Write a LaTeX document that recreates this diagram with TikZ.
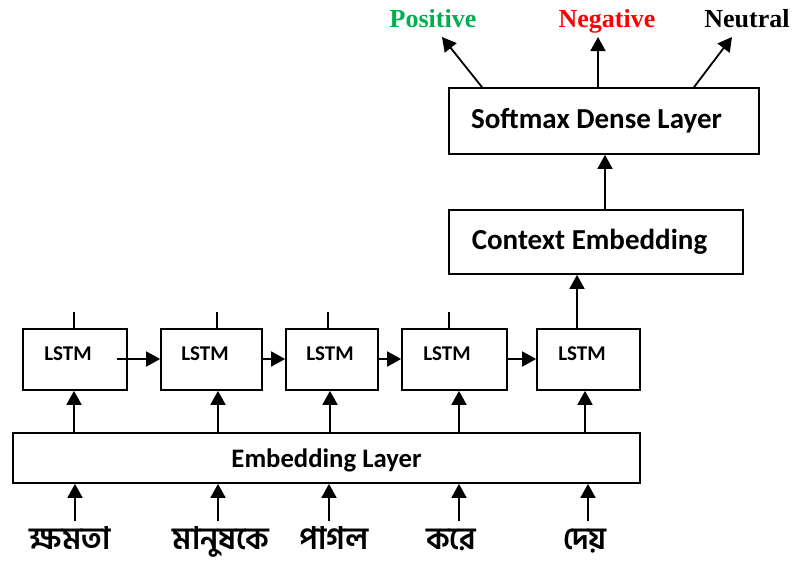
\documentclass[tikz,border=0pt]{standalone}
\usepackage{fontspec}
\setmainfont{Carlito}
\newfontfamily\tms{Liberation Serif}
\newfontfamily\bn[Script=Bengali]{Hind Siliguri}
\usetikzlibrary{arrows.meta}
\definecolor{posgreen}{RGB}{0,176,80}
\definecolor{negred}{RGB}{255,0,0}
\begin{document}
\begin{tikzpicture}[x=1pt,y=-1pt,
  box/.style={draw,line width=1.7pt,rectangle,inner sep=0pt,minimum height=#1},
  box/.default=61pt,
  conn/.style={line width=1.8pt,-{Triangle[length=14pt,width=15pt]}},
  plain/.style={line width=1.8pt},
  lbl/.style={font=\bfseries\fontsize{21}{21}\selectfont,inner sep=0pt},
  biglbl/.style={font=\bfseries\fontsize{29}{29}\selectfont,inner sep=0pt},
  outlbl/.style={font=\tms\bfseries\fontsize{26}{26}\selectfont,inner sep=0pt,anchor=base},
  word/.style={font=\bn\bfseries\fontsize{31}{31}\selectfont,inner sep=0pt,anchor=base}]
\useasboundingbox (0,0) rectangle (793,563);
% boxes
\node[box=66pt,minimum width=310pt] (soft) at (604,121) {};
\node[biglbl] (softt) at (596.5,121) {Softmax Dense Layer};
\node[box=64pt,minimum width=294pt] (ctx) at (596,242) {};
\node[biglbl] (ctxt) at (589.5,242) {Context Embedding};
\node[box,minimum width=104pt] (l1) at (75,359.5) {};
\node[box,minimum width=101pt] (l2) at (211.5,359.5) {};
\node[box,minimum width=92pt] (l3) at (332,359.5) {};
\node[box,minimum width=105pt] (l4) at (454.5,359.5) {};
\node[box,minimum width=103pt] (l5) at (588.5,359.5) {};
\node[lbl] (t1) at (68,354) {LSTM};
\node[lbl] (t2) at (205,354) {LSTM};
\node[lbl] (t3) at (330,354) {LSTM};
\node[lbl] (t4) at (447,354) {LSTM};
\node[lbl] (t5) at (582,354) {LSTM};
\node[box=50pt,minimum width=627pt] (emb) at (326.5,458) {};
\node[font=\bfseries\fontsize{26.7}{26.7}\selectfont,inner sep=0pt] (embt) at (326.5,460) {Embedding Layer};
% outputs
\node[outlbl,text=posgreen] (pos) at (433,27) {Positive};
\node[outlbl,text=negred] (neg) at (607,27) {Negative};
\node[outlbl] (neu) at (747,27) {Neutral};
\coordinate (pa) at (442,37);
\coordinate (na) at (598,37);
\coordinate (ua) at (732,37);
\draw[conn] (soft.north -| 482,0) -- (pa);
\draw[conn] (soft.north -| 598,0) -- (na);
\draw[conn] (soft.north -| 694,0) -- (ua);
\draw[conn] (ctx.north -| 605,0) -- (soft.south -| 605,0);
\draw[conn] (l5.north -| 577,0) -- (ctx.south -| 577,0);
% stubs above LSTMs
\foreach \n/\x in {l1/74,l2/217,l3/328,l4/449}{
  \coordinate (s\n) at (\x,312);
  \draw[plain] (\n.north -| \x,0) -- (s\n);
}
% recurrent arrows
\coordinate (r1) at (117,359);
\draw[conn] (r1) -- (l2.west |- r1);
\draw[conn] (l2.east |- r1) -- (l3.west |- r1);
\draw[conn] (l3.east |- r1) -- (l4.west |- r1);
\draw[conn] (l4.east |- r1) -- (l5.west |- r1);
% embedding to LSTM
\draw[conn] (emb.north -| 74,0) -- (l1.south -| 74,0);
\draw[conn] (emb.north -| 218,0) -- (l2.south -| 218,0);
\draw[conn] (emb.north -| 330,0) -- (l3.south -| 330,0);
\draw[conn] (emb.north -| 459,0) -- (l4.south -| 459,0);
\draw[conn] (emb.north -| 585,0) -- (l5.south -| 585,0);
% words
\node[word] (w1) at (70,549) {ক্ষমতা};
\node[word] (w2) at (221,549) {মানুষকে};
\node[word] (w3) at (334,549) {পাগল};
\node[word] (w4) at (451,549) {করে};
\node[word] (w5) at (585,549) {দেয়};
\foreach \x/\w in {75/w1,218/w2,329/w3,459/w4,588/w5}{
  \coordinate (b\w) at (\x,521);
  \draw[conn] (b\w) -- (emb.south -| \x,0);
}
\end{tikzpicture}
\end{document}
